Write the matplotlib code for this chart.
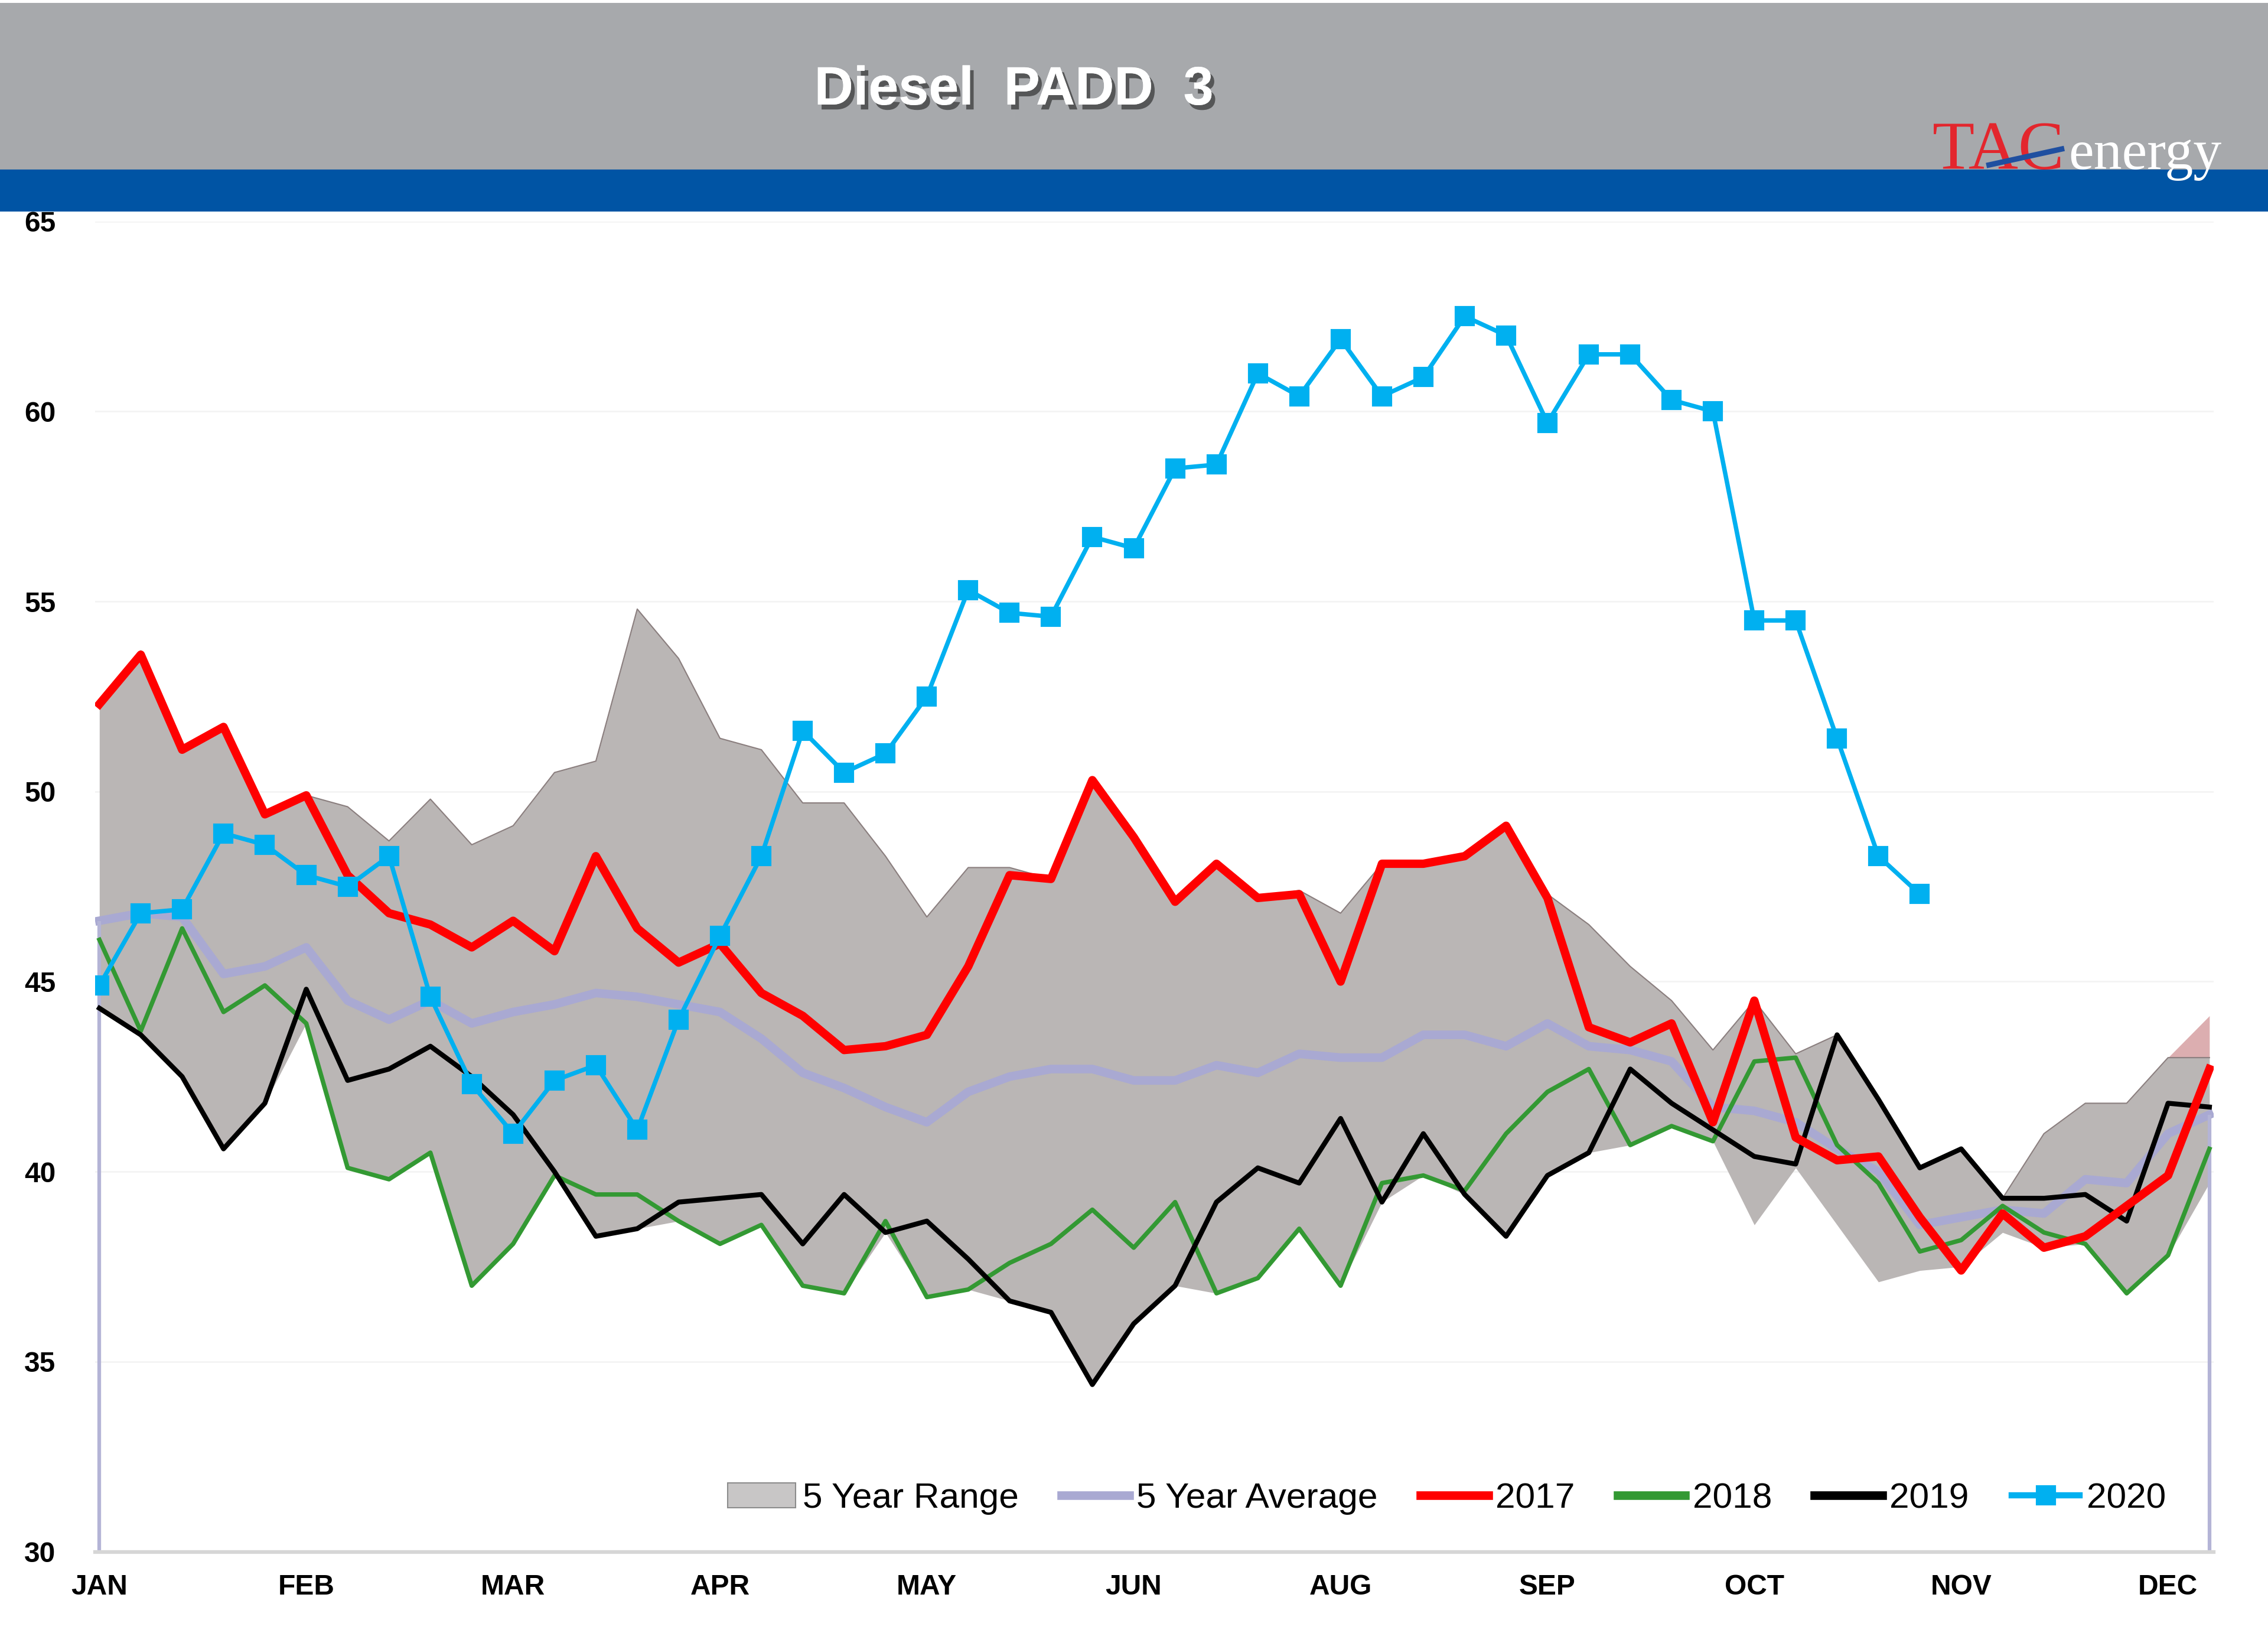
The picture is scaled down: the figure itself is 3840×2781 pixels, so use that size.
import matplotlib
matplotlib.use('Agg')
import matplotlib.pyplot as plt
from matplotlib.patches import Patch, Rectangle
from matplotlib.lines import Line2D
import matplotlib.patheffects as pe
import numpy as np

plt.rcParams['font.family'] = ['Liberation Sans', 'DejaVu Sans']

# weekly values, 52 weeks
weeks = list(range(52))
month_labels = ['JAN', 'FEB', 'MAR', 'APR', 'MAY', 'JUN', 'AUG', 'SEP', 'OCT', 'NOV', 'DEC']
month_weeks = [0, 5, 10, 15, 20, 25, 30, 35, 40, 45, 50]

range_high = [52.3, 53.7, 51.1, 51.7, 49.5, 49.9, 49.6, 48.7, 49.8, 48.6,
              49.1, 50.5, 50.8, 54.8, 53.5, 51.4, 51.1, 49.7, 49.7, 48.3,
              46.7, 48.0, 48.0, 47.7, 50.3, 48.8, 47.1, 48.1, 47.2, 47.4,
              46.8, 48.1, 48.1, 48.3, 49.1, 47.3, 46.5, 45.4, 44.5, 43.2,
              44.5, 43.1, 43.6, 41.9, 40.1, 40.6, 39.3, 41.0, 41.8, 41.8,
              43.0, 43.0]
range_high_end = [43.0, 44.1]   # pinkish tip on the last week
range_low = [44.3, 43.6, 42.5, 40.6, 41.8, 43.9, 40.1, 39.8, 40.5, 37.0,
             38.1, 39.9, 38.3, 38.5, 38.7, 38.1, 38.6, 37.0, 36.8, 38.4,
             36.7, 36.9, 36.6, 36.3, 34.4, 36.0, 37.0, 36.8, 37.2, 38.5,
             37.0, 39.2, 39.9, 39.4, 38.3, 39.9, 40.5, 40.7, 41.2, 40.8,
             38.6, 40.1, 38.6, 37.1, 37.4, 37.5, 38.4, 38.0, 38.1, 36.8,
             37.8, 39.7]
avg5 = [46.6, 46.8, 46.7, 45.2, 45.4, 45.9, 44.5, 44.0, 44.5, 43.9,
        44.2, 44.4, 44.7, 44.6, 44.4, 44.2, 43.5, 42.6, 42.2, 41.7,
        41.3, 42.1, 42.5, 42.7, 42.7, 42.4, 42.4, 42.8, 42.6, 43.1,
        43.0, 43.0, 43.6, 43.6, 43.3, 43.9, 43.3, 43.2, 42.9, 41.7,
        41.6, 41.3, 40.6, 40.0, 38.6, 38.8, 39.0, 38.9, 39.8, 39.7,
        41.0, 41.5]
y2017 = [52.3, 53.6, 51.1, 51.7, 49.4, 49.9, 47.8, 46.8, 46.5, 45.9,
         46.6, 45.8, 48.3, 46.4, 45.5, 46.0, 44.7, 44.1, 43.2, 43.3,
         43.6, 45.4, 47.8, 47.7, 50.3, 48.8, 47.1, 48.1, 47.2, 47.3,
         45.0, 48.1, 48.1, 48.3, 49.1, 47.2, 43.8, 43.4, 43.9, 41.3,
         44.5, 40.9, 40.3, 40.4, 38.8, 37.4, 38.9, 38.0, 38.3, 39.1,
         39.9, 42.7]
y2018 = [46.1, 43.7, 46.4, 44.2, 44.9, 43.9, 40.1, 39.8, 40.5, 37.0,
         38.1, 39.9, 39.4, 39.4, 38.7, 38.1, 38.6, 37.0, 36.8, 38.7,
         36.7, 36.9, 37.6, 38.1, 39.0, 38.0, 39.2, 36.8, 37.2, 38.5,
         37.0, 39.7, 39.9, 39.5, 41.0, 42.1, 42.7, 40.7, 41.2, 40.8,
         42.9, 43.0, 40.7, 39.7, 37.9, 38.2, 39.1, 38.4, 38.1, 36.8,
         37.8, 40.6]
y2019 = [44.3, 43.6, 42.5, 40.6, 41.8, 44.8, 42.4, 42.7, 43.3, 42.5,
         41.5, 40.0, 38.3, 38.5, 39.2, 39.3, 39.4, 38.1, 39.4, 38.4,
         38.7, 37.7, 36.6, 36.3, 34.4, 36.0, 37.0, 39.2, 40.1, 39.7,
         41.4, 39.2, 41.0, 39.4, 38.3, 39.9, 40.5, 42.7, 41.8, 41.1,
         40.4, 40.2, 43.6, 41.9, 40.1, 40.6, 39.3, 39.3, 39.4, 38.7,
         41.8, 41.7]
y2020 = [44.9, 46.8, 46.9, 48.9, 48.6, 47.8, 47.5, 48.3, 44.6, 42.3,
         41.0, 42.4, 42.8, 41.1, 44.0, 46.2, 48.3, 51.6, 50.5, 51.0,
         52.5, 55.3, 54.7, 54.6, 56.7, 56.4, 58.5, 58.6, 61.0, 60.4,
         61.9, 60.4, 60.9, 62.5, 62.0, 59.7, 61.5, 61.5, 60.3, 60.0,
         54.5, 54.5, 51.4, 48.3, 47.3]

fig = plt.figure(figsize=(12.8, 9.27), dpi=300)

# header bands
fig.patches.append(Rectangle((0, 0.896), 1, 0.1015, transform=fig.transFigure,
                             color='#a7a9ac', zorder=0))
fig.patches.append(Rectangle((0, 0.872), 1, 0.024, transform=fig.transFigure,
                             color='#0054a4', zorder=0))
fig.text(0.447, 0.945, 'Diesel  PADD  3', color='white', fontsize=22,
         fontweight='bold', ha='center', va='center',
         path_effects=[pe.withSimplePatchShadow(offset=(1.5, -2), shadow_rgbFace='#333333', alpha=0.7),
                       pe.Normal()])
fig.text(0.852, 0.897, 'TAC', color='#e3262d', fontsize=28, family='Liberation Serif',
         ha='left', va='baseline', zorder=3)
fig.text(0.912, 0.897, 'energy', color='white', fontsize=23, family='Liberation Serif',
         ha='left', va='baseline', zorder=3)
fig.lines.append(Line2D([0.877, 0.909], [0.8996, 0.9093], transform=fig.transFigure,
                        color='#1f4fa0', lw=2.2, zorder=4))

ax = fig.add_axes([0.042, 0.0555, 0.934, 0.8098])
x = np.array(weeks)

ax.fill_between(x, range_low, range_high, color='#bab6b5', lw=0, zorder=1)
ax.plot(x, range_high, color='#8a7e7e', lw=0.5, zorder=1.5)
ax.fill_between(x[-2:], range_high[-2:], range_high_end, color='#dcaeb0', lw=0, zorder=1)

ax.plot(x, avg5, color='#a9a9d2', lw=3.5, zorder=2, solid_joinstyle='round')
ax.vlines([x[0], x[-1]], 30, [avg5[0], avg5[-1]], color='#b4b4d6', lw=1.5, zorder=2)

ax.plot(x, y2018, color='#339933', lw=1.8, zorder=3)
ax.plot(x, y2019, color='black', lw=2.0, zorder=3)
ax.plot(x, y2017, color='#ff0000', lw=3.4, zorder=4)
ax.plot(x[:len(y2020)], y2020, color='#00b0f0', lw=1.8, marker='s', ms=7, zorder=5)

ax.set_xlim(-0.1, 51.1)
ax.set_ylim(30, 65)
ax.set_yticks(range(30, 66, 5))
ax.set_xticks(month_weeks)
ax.set_xticklabels(month_labels)
ax.tick_params(axis='both', length=0, labelsize=11.5)
ax.tick_params(axis='y', pad=16)
ax.tick_params(axis='x', pad=9)
for lab in ax.get_xticklabels() + ax.get_yticklabels():
    lab.set_fontweight('bold')
ax.grid(axis='y', color='#f3f3f3', lw=0.6)
ax.set_axisbelow(True)
for s in ['top', 'left', 'right']:
    ax.spines[s].set_visible(False)
ax.spines['bottom'].set_color('#d6d6d6')
ax.spines['bottom'].set_linewidth(1.5)

handles = [
    Patch(facecolor='#c8c6c6', edgecolor='#8c8c8c', lw=0.5),
    Line2D([], [], color='#a9a9d2', lw=3.5),
    Line2D([], [], color='#ff0000', lw=3.5),
    Line2D([], [], color='#339933', lw=3.5),
    Line2D([], [], color='black', lw=3.5),
    Line2D([], [], color='#00b0f0', lw=2.5, marker='s', ms=7),
]
labels = ['5 Year Range', '5 Year Average', '2017', '2018', '2019', '2020']
ax.legend(handles, labels, loc='center', bbox_to_anchor=(0.638, 0.04), ncol=6,
          frameon=False, fontsize=14.5, handlelength=1.9, handletextpad=0.2,
          columnspacing=1.2)

plt.savefig('out.png', dpi=300)
plt.close()
